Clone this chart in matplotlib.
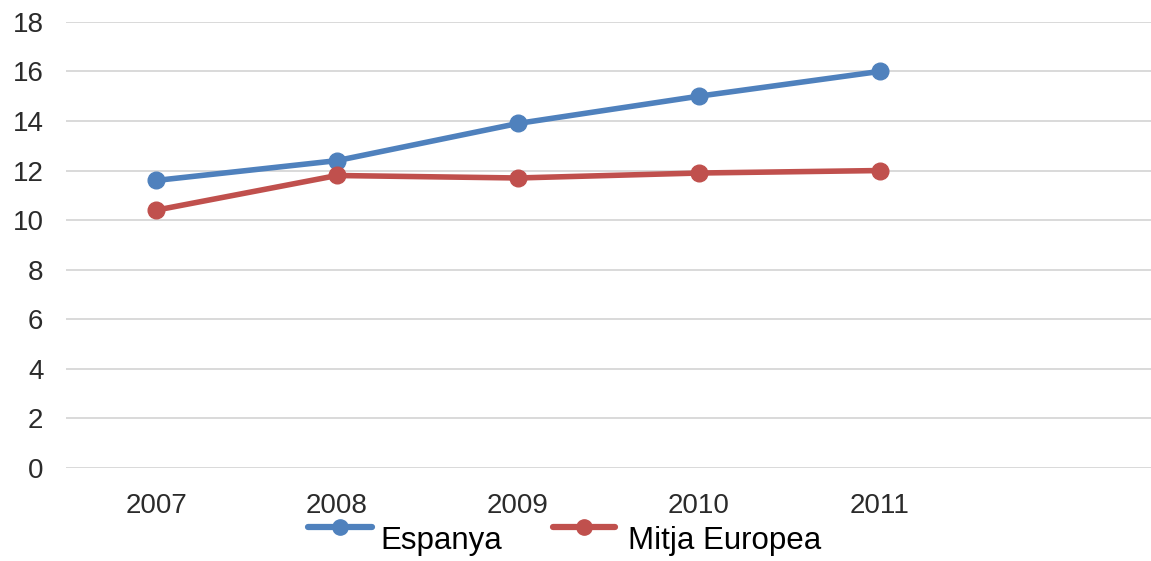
import matplotlib.pyplot as plt
from matplotlib.lines import Line2D

plt.rcParams['font.family'] = ['Liberation Sans', 'DejaVu Sans']

years = ['2007', '2008', '2009', '2010', '2011']
espanya = [11.6, 12.4, 13.9, 15.0, 16.0]
mitja_europea = [10.4, 11.8, 11.7, 11.9, 12.0]
series_names = ['Espanya', 'Mitja Europea']
colors = ['#4F81BD', '#C0504D']

fig = plt.figure(figsize=(11.51, 5.61), dpi=100)
ax = fig.add_axes([0.057, 0.166, 0.943, 0.795])

x = list(range(len(years)))
for vals, c, name in zip([espanya, mitja_europea], colors, series_names):
    ax.plot(x, vals, '-o', color=c, lw=4, markersize=12, label=name, zorder=3)

# one empty category slot on the right, like the original
ax.set_xlim(-0.5, 5.5)
ax.set_ylim(0, 18)
ax.set_yticks(range(0, 19, 2))
ax.set_xticks(x)
ax.set_xticklabels(years)
ax.tick_params(length=0, labelsize=20, labelcolor='#2b2b2b')
ax.tick_params(axis='x', pad=18)
ax.tick_params(axis='y', pad=16)
ax.grid(axis='y', color='#D9D9D9', lw=1.4)
ax.set_axisbelow(True)
for s in ax.spines.values():
    s.set_visible(False)

# legend drawn by hand: the labels sit lower than the line handles in the original
W, H = 1151, 561
legend_spots = [(308, 372, 380), (553, 615, 628)]
for (x0, x1, tx), c, name in zip(legend_spots, colors, series_names):
    fig.add_artist(Line2D([x0 / W, x1 / W], [1 - 527 / H, 1 - 527 / H], color=c, lw=4.5,
                          solid_capstyle='round', transform=fig.transFigure))
    fig.add_artist(Line2D([(x0 + x1) / 2 / W], [1 - 527 / H], marker='o', markersize=11,
                          color=c, transform=fig.transFigure))
    fig.text(tx / W, 1 - 541 / H, name, fontsize=22.5, color='black', va='center', ha='left')

fig.savefig('out.png', dpi=100)
